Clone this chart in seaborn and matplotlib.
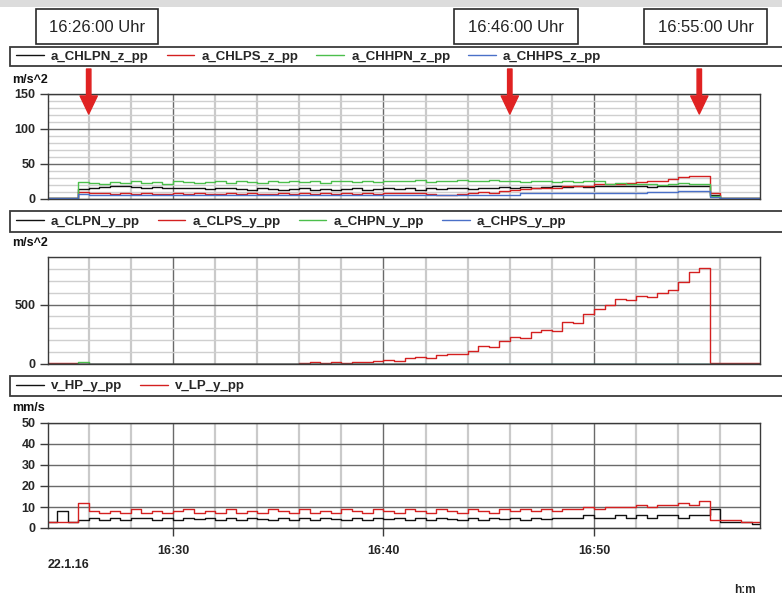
import numpy as np
import pandas as pd
import matplotlib
matplotlib.use("Agg")
import matplotlib.pyplot as plt
import matplotlib.dates as mdates
from matplotlib.ticker import MultipleLocator
from matplotlib.patches import Rectangle
import seaborn as sns

# ---- sample times (30 s logger interval) -------------------------------
times = pd.date_range("2016-01-22 16:24:00", periods=69, freq="30s")

# ---- panel 1: vertical acceleration peak-peak, m/s^2 --------------------
a_CHLPN_z_pp = [1, 1, 1, 14, 16, 17, 19, 18, 17, 16, 17, 16, 15, 16, 16, 14, 15, 16, 14, 13,
                15, 14, 13, 14, 15, 13, 14, 13, 14, 15, 13, 14, 15, 14, 15, 13, 16, 14, 15, 16,
                14, 16, 15, 17, 16, 17, 16, 17, 18, 17, 18, 17, 18, 19, 18, 18, 19, 17, 18, 19,
                18, 19, 18, 6, 1, 1, 1, 1, 1]
a_CHLPS_z_pp = [2, 2, 2, 10, 8, 8, 7, 8, 7, 8, 7, 7, 8, 7, 8, 7, 7, 8, 7, 8,
                7, 7, 8, 7, 8, 7, 8, 7, 8, 7, 8, 7, 8, 8, 8, 9, 7, 6, 6, 7,
                9, 10, 9, 11, 13, 14, 15, 15, 16, 18, 19, 19, 21, 22, 22, 23, 24, 25, 25, 28,
                31, 33, 33, 8, 1, 1, 1, 2, 1]
a_CHHPN_z_pp = [1, 1, 1, 24, 23, 22, 24, 23, 25, 23, 24, 22, 25, 24, 23, 24, 25, 23, 26, 24,
                23, 25, 24, 26, 24, 25, 23, 26, 25, 24, 26, 24, 25, 26, 25, 27, 24, 26, 25, 27,
                25, 26, 27, 25, 26, 24, 26, 25, 24, 25, 24, 25, 25, 22, 23, 21, 22, 22, 20, 22,
                23, 21, 22, 4, 1, 1, 1, 1, 1]
a_CHHPS_z_pp = [1, 1, 1, 7, 6, 6, 5, 6, 6, 5, 6, 6, 5, 6, 6, 6, 5, 6, 6, 5,
                6, 6, 5, 6, 6, 5, 6, 6, 6, 5, 6, 6, 5, 6, 6, 5, 6, 6, 6, 5,
                6, 6, 5, 6, 6, 8, 8, 8, 8, 8, 8, 9, 8, 9, 9, 9, 9, 10, 10, 10,
                11, 11, 11, 3, 1, 1, 1, 1, 1]

# ---- panel 2: lateral acceleration peak-peak, m/s^2 ---------------------
a_CLPN_y_pp = [0, 0, 0, 0, 0, 0, 0, 0, 0, 0, 0, 0, 0, 0, 0, 0, 0, 0, 0, 0,
               0, 0, 0, 0, 0, 0, 0, 0, 0, 0, 0, 0, 0, 0, 0, 0, 0, 0, 0, 0,
               0, 0, 0, 0, 0, 0, 0, 0, 0, 0, 0, 0, 0, 0, 0, 0, 0, 0, 0, 0,
               0, 0, 0, 0, 0, 0, 0, 0, 0]
a_CLPS_y_pp = [8, 8, 8, 0, 0, 0, 0, 0, 0, 0, 0, 0, 0, 0, 0, 0, 0, 0, 0, 0,
               0, 0, 0, 0, 12, 15, 10, 15, 12, 18, 15, 25, 30, 28, 50, 55, 50, 75, 85, 80,
               110, 150, 140, 195, 225, 215, 270, 290, 280, 350, 345, 420, 460, 500, 545, 540, 575, 565, 600, 625,
               690, 775, 805, 10, 10, 10, 10, 10, 10]
a_CHPN_y_pp = [0, 0, 0, 15, 0, 0, 0, 0, 0, 0, 0, 0, 0, 0, 0, 0, 0, 0, 0, 0,
               0, 0, 0, 0, 0, 0, 0, 0, 0, 0, 0, 0, 0, 0, 0, 0, 0, 0, 0, 0,
               0, 0, 0, 0, 0, 0, 0, 0, 0, 0, 0, 0, 0, 0, 0, 0, 0, 0, 0, 0,
               0, 0, 0, 0, 0, 0, 0, 0, 0]
a_CHPS_y_pp = [0, 0, 0, 0, 0, 0, 0, 0, 0, 0, 0, 0, 0, 0, 0, 0, 0, 0, 0, 0,
               0, 0, 0, 0, 0, 0, 0, 0, 0, 0, 0, 0, 0, 0, 0, 0, 0, 0, 0, 0,
               0, 0, 0, 0, 0, 0, 0, 0, 0, 0, 0, 0, 0, 0, 0, 0, 0, 0, 0, 0,
               0, 0, 0, 0, 0, 0, 0, 0, 0]

# ---- panel 3: lateral vibration velocity peak-peak, mm/s ----------------
v_HP_y_pp = [3, 8, 3, 4, 5, 4, 5, 4, 5, 5, 4, 5, 4, 5, 4.5, 5, 4, 5, 4, 5,
             4.5, 4, 5, 4, 5, 4, 5, 4.5, 4, 5, 4, 5, 4.5, 5, 4, 5, 4, 5, 4.5, 4,
             5, 4, 5, 4.5, 5, 4, 5, 4.5, 5, 5, 5, 6, 5, 5, 6, 5, 6, 5, 6, 6,
             5, 6, 6, 9, 3, 3, 3, 2, 2]
v_LP_y_pp = [3, 3, 3, 12, 8, 7, 8, 7, 9, 7, 8, 7, 8, 9, 7, 8, 7, 9, 7, 8,
             7, 9, 8, 7, 9, 7, 8, 7, 9, 8, 7, 9, 8, 7, 9, 8, 7, 9, 8, 7,
             9, 8, 7, 9, 8, 9, 8, 9, 8, 9, 9, 10, 9, 10, 10, 10, 11, 10, 11, 11,
             12, 11, 13, 4, 4, 4, 3, 3, 3]

# ---- annotation times ---------------------------------------------------
marks = ["16:26:00", "16:46:00", "16:55:00"]
mark_labels = ["16:26:00 Uhr", "16:46:00 Uhr", "16:55:00 Uhr"]

BLACK, RED, GREEN, BLUE = "#111111", "#d42020", "#4cbf4c", "#4a70c8"

sns.set_theme(style="white")
plt.rcParams["font.family"] = ["Liberation Sans", "DejaVu Sans"]

W, H = 782, 595
fig = plt.figure(figsize=(W / 100, H / 100), dpi=100)
fig.patch.set_facecolor("white")


def fx(px):
    return px / W


def fy(py):
    return 1 - py / H


def frect(x0, y0, x1, y1, **kw):
    fig.add_artist(Rectangle((fx(x0), fy(y1)), fx(x1) - fx(x0), (y1 - y0) / H,
                             transform=fig.transFigure, **kw))


t0 = pd.Timestamp("2016-01-22 16:24:04")
t1 = pd.Timestamp("2016-01-22 16:57:53")


def make_panel(top, bottom, ymax, ymajor, yminor, series, legend_y, unit, unit_y,
               show_x=False, black_on_top=False):
    ax = fig.add_axes([fx(48), fy(bottom), fx(760) - fx(48), (bottom - top) / H])
    ax.set_facecolor("white")
    lines = []
    for name, vals, col in series:
        sns.lineplot(x=times, y=vals, ax=ax, color=col, linewidth=1.0,
                     drawstyle="steps-post", label=name, legend=False)
        ln = ax.get_lines()[-1]
        if black_on_top and col == BLACK:
            ln.set_zorder(4)
        lines.append(ln)
    ax.set_xlim(t0, t1)
    ax.set_ylim(0, ymax)
    ax.set_xlabel("")
    ax.set_ylabel("")
    ax.xaxis.set_major_locator(mdates.MinuteLocator(byminute=[0, 10, 20, 30, 40, 50]))
    ax.xaxis.set_minor_locator(mdates.MinuteLocator(byminute=range(0, 60, 2)))
    ax.xaxis.set_major_formatter(mdates.DateFormatter("%H:%M"))
    ax.yaxis.set_major_locator(MultipleLocator(ymajor))
    if yminor:
        ax.yaxis.set_minor_locator(MultipleLocator(yminor))
        ax.grid(which="minor", axis="y", color="#cfcfcf", linewidth=1.0)
    ax.grid(which="minor", axis="x", color="#cacaca", linewidth=1.6)
    ax.grid(which="major", axis="both", color="#6a6a6a", linewidth=1.0)
    ax.set_axisbelow(True)
    for s in ax.spines.values():
        s.set_color("#3a3a3a")
        s.set_linewidth(1.0)
    ax.tick_params(axis="y", which="major", direction="out", length=6, width=1.0,
                   color="#3a3a3a", pad=3, left=True, labelsize=9)
    ax.tick_params(axis="y", which="minor", length=0)
    for lab in ax.get_yticklabels():
        lab.set_fontweight("bold")
    if show_x:
        ax.tick_params(axis="x", which="major", direction="out", length=6, width=1.0,
                       color="#3a3a3a", pad=6, bottom=True, labelsize=9)
        ax.tick_params(axis="x", which="minor", length=0)
        for lab in ax.get_xticklabels():
            lab.set_fontweight("bold")
    else:
        ax.tick_params(axis="x", which="both", length=0, labelbottom=False)

    # legend strip above the panel
    frect(10, legend_y[0], 800, legend_y[1], facecolor="white",
          edgecolor="#3a3a3a", linewidth=1.3, zorder=1)
    fig.legend(handles=lines, loc="center left",
               bbox_to_anchor=(fx(16), fy((legend_y[0] + legend_y[1]) / 2)),
               bbox_transform=fig.transFigure, ncol=len(lines), frameon=False,
               prop={"weight": "bold", "size": 9.5}, handlelength=2.1,
               handletextpad=0.55, columnspacing=1.35, borderpad=0,
               borderaxespad=0)
    fig.text(fx(12), fy(unit_y), unit, fontsize=9, fontweight="bold",
             ha="left", va="center", color="#111111")
    return ax


# top band
frect(0, 0, W, 7, facecolor="#dcdcdc", edgecolor="none")

ax1 = make_panel(94, 199, 150, 50, 10,
                 [("a_CHLPN_z_pp", a_CHLPN_z_pp, BLACK),
                  ("a_CHLPS_z_pp", a_CHLPS_z_pp, RED),
                  ("a_CHHPN_z_pp", a_CHHPN_z_pp, GREEN),
                  ("a_CHHPS_z_pp", a_CHHPS_z_pp, BLUE)],
                 (47, 66), "m/s^2", 80)
ax2 = make_panel(257, 364, 900, 500, 100,
                 [("a_CLPN_y_pp", a_CLPN_y_pp, BLACK),
                  ("a_CLPS_y_pp", a_CLPS_y_pp, RED),
                  ("a_CHPN_y_pp", a_CHPN_y_pp, GREEN),
                  ("a_CHPS_y_pp", a_CHPS_y_pp, BLUE)],
                 (211, 232), "m/s^2", 243, black_on_top=True)
ax3 = make_panel(423, 528, 50, 10, None,
                 [("v_HP_y_pp", v_HP_y_pp, BLACK),
                  ("v_LP_y_pp", v_LP_y_pp, RED)],
                 (376, 396), "mm/s", 408, show_x=True)

# time markers: labelled boxes and red arrows
box_x = [(36, 158), (454, 578), (644, 767)]
for m, lab, (bx0, bx1) in zip(marks, mark_labels, box_x):
    frect(bx0, 9, bx1, 44, facecolor="white", edgecolor="#2a2a2a", linewidth=1.2)
    fig.text(fx((bx0 + bx1) / 2), fy(27), lab, fontsize=12, ha="center",
             va="center", color="#222222")
    tm = pd.Timestamp("2016-01-22 " + m)
    ax1.annotate("", xy=(tm, (199 - 114) / 105), xycoords=("data", "axes fraction"),
                 xytext=(tm, (199 - 69) / 105), textcoords=("data", "axes fraction"),
                 arrowprops=dict(arrowstyle="simple,head_length=0.65,head_width=0.62,tail_width=0.16",
                                 color="#e02222", shrinkA=0, shrinkB=0,
                                 mutation_scale=20),
                 annotation_clip=False, zorder=6)

fig.text(fx(48), fy(565), "22.1.16", fontsize=9, fontweight="bold",
         ha="left", va="center", color="#222222")
fig.text(fx(745), fy(590), "h:m", fontsize=8.5, fontweight="bold",
         ha="center", va="center", color="#222222")

fig.savefig("out.png", dpi=100, facecolor="white")
